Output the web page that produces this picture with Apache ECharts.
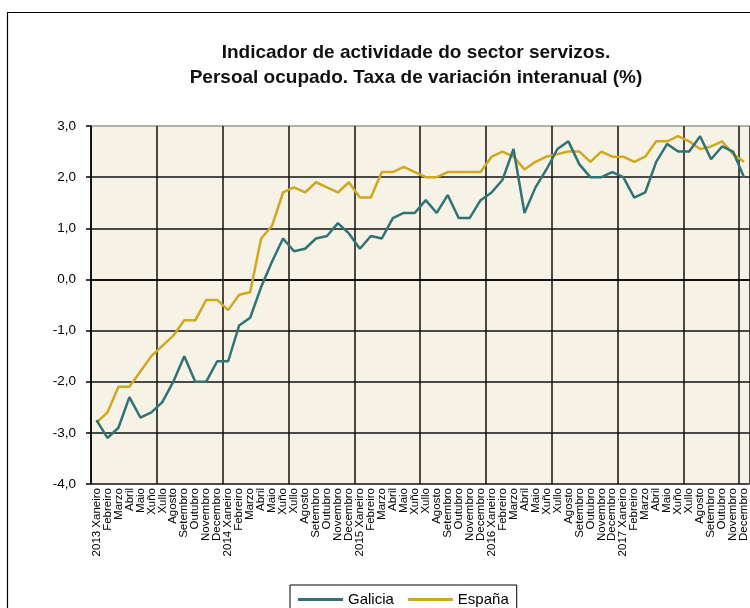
<!DOCTYPE html>
<html>
<head>
<meta charset="utf-8">
<script src="https://cdn.jsdelivr.net/npm/echarts@6/dist/echarts.min.js"></script>
<style>
html,body{margin:0;padding:0;background:#fff;}
#chart{width:750px;height:608px;}
</style>
</head>
<body>
<div id="chart"></div>
<script>
var years = [2013, 2014, 2015, 2016, 2017];
var months = ["Xaneiro","Febreiro","Marzo","Abril","Maio","Xuño","Xullo","Agosto","Setembro","Outubro","Novembro","Decembro"];
var galicia = [
  -2.75, -3.1, -2.9, -2.3, -2.7, -2.6, -2.4, -2.0, -1.5, -2.0, -2.0, -1.6,
  -1.6, -0.9, -0.75, -0.15, 0.35, 0.8, 0.55, 0.6, 0.8, 0.85, 1.1, 0.9,
  0.6, 0.85, 0.8, 1.2, 1.3, 1.3, 1.55, 1.3, 1.65, 1.2, 1.2, 1.55,
  1.7, 1.95, 2.55, 1.3, 1.8, 2.15, 2.55, 2.7, 2.25, 2.0, 2.0, 2.1,
  2.0, 1.6, 1.7, 2.3, 2.65, 2.5, 2.5, 2.8, 2.35, 2.6, 2.5, 2.0
];
var espana = [
  -2.8, -2.6, -2.1, -2.1, -1.8, -1.5, -1.3, -1.1, -0.8, -0.8, -0.4, -0.4,
  -0.6, -0.3, -0.25, 0.8, 1.05, 1.7, 1.8, 1.7, 1.9, 1.8, 1.7, 1.9,
  1.6, 1.6, 2.1, 2.1, 2.2, 2.1, 2.0, 2.0, 2.1, 2.1, 2.1, 2.1,
  2.4, 2.5, 2.4, 2.15, 2.3, 2.4, 2.45, 2.5, 2.5, 2.3, 2.5, 2.4,
  2.4, 2.3, 2.4, 2.7, 2.7, 2.8, 2.7, 2.55, 2.6, 2.7, 2.45, 2.3
];
var categories = [];
years.forEach(function (y) {
  months.forEach(function (m, k) { categories.push(k === 0 ? y + " " + m : m); });
});

var chart = echarts.init(document.getElementById('chart'));
chart.setOption({
  backgroundColor: '#ffffff',
  animation: false,
  title: {
    text: 'Indicador de actividade do sector servizos.\nPersoal ocupado. Taxa de variación interanual (%)',
    left: 411, top: 35, textAlign: 'center',
    textStyle: { fontFamily: 'Arial, sans-serif', fontSize: 19, fontWeight: 'bold', color: '#111', lineHeight: 25 }
  },
  graphic: [{
    type: 'rect', left: 5, top: 10, z: -1,
    shape: { width: 780, height: 640 },
    style: { fill: 'none', stroke: '#000', lineWidth: 1.2 }
  }],
  legend: {
    left: 290, top: 585,
    data: ['Galicia', 'España'],
    icon: 'rect', itemWidth: 45, itemHeight: 3, itemGap: 14,
    borderColor: '#000', borderWidth: 1, padding: [7, 8, 10, 8],
    textStyle: { fontFamily: 'Arial, sans-serif', fontSize: 15, color: '#000' }
  },
  grid: { left: 91, right: 0, top: 126, bottom: 124, show: true, backgroundColor: '#f6f2e6', borderWidth: 0 },
  xAxis: {
    type: 'category', data: categories, boundaryGap: true,
    axisLine: { show: true, lineStyle: { color: '#000', width: 1.5 } },
    axisTick: { show: false },
    axisLabel: { interval: 0, rotate: 90, fontFamily: 'Arial, sans-serif', fontSize: 11.5, color: '#000', margin: 4 },
    splitLine: { show: true, interval: 5, lineStyle: { color: '#111', width: 1.5 } }
  },
  yAxis: {
    type: 'value', min: -4, max: 3, interval: 1,
    axisLine: { show: true, lineStyle: { color: '#000', width: 1.5 } },
    axisTick: { show: true, length: 5, lineStyle: { color: '#000', width: 1.5 } },
    axisLabel: { fontFamily: 'Arial, sans-serif', fontSize: 13.5, color: '#000', margin: 15,
      formatter: function (v) { return v.toFixed(1).replace('.', ','); } },
    splitLine: { show: true, lineStyle: { color: ['#111','#111','#111','#111','#111','#111','#111','#999'], width: 1.5 } }
  },
  series: [
    { name: 'Galicia', type: 'line', data: galicia, symbol: 'none', lineStyle: { color: '#2f7472', width: 2.5 }, itemStyle: { color: '#2f7472' } },
    { name: 'España', type: 'line', data: espana, symbol: 'none', z: 1, lineStyle: { color: '#cfa820', width: 2.5 }, itemStyle: { color: '#cfa820' } }
  ]
});
</script>
</body>
</html>
